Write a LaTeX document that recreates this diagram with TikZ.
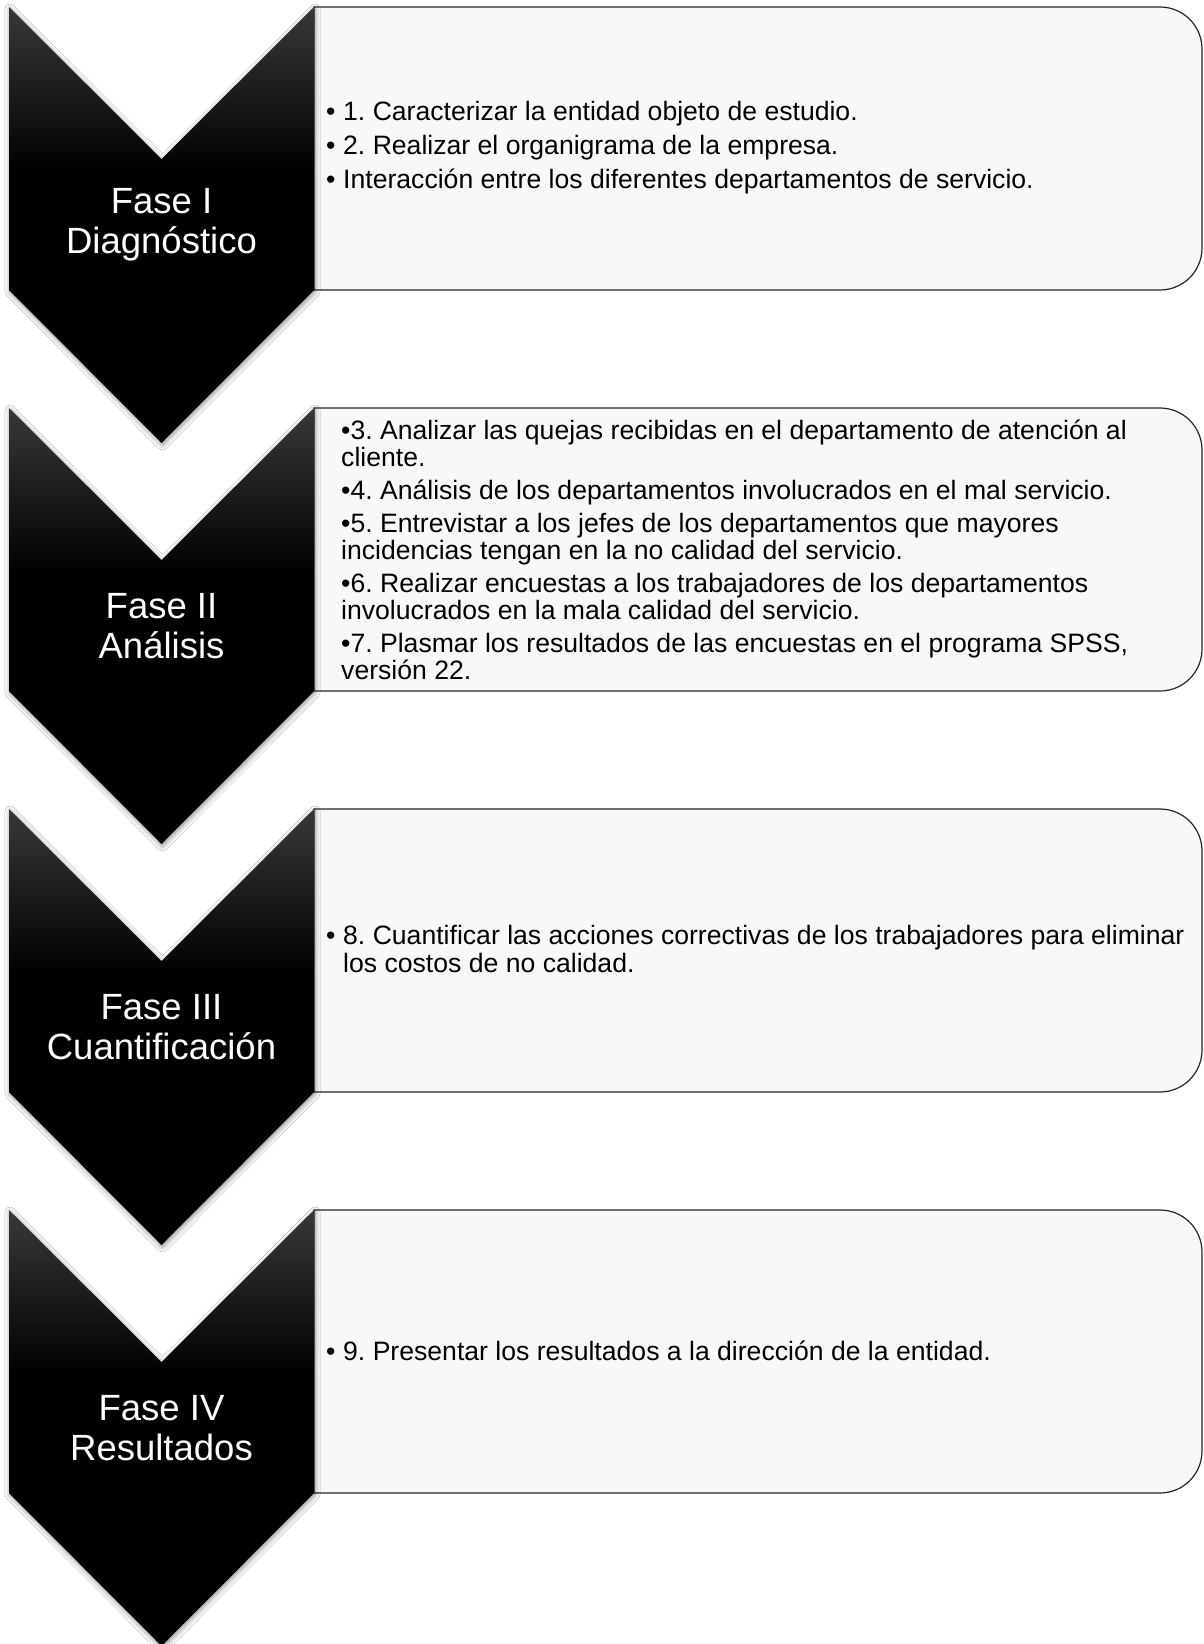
\documentclass[tikz,border=0pt]{standalone}
\usepackage{fontspec}
\setmainfont{Liberation Sans}
\usetikzlibrary{shadows.blur}
\definecolor{boxgray}{HTML}{F8F8F8}
\frenchspacing
\newcommand{\bul}{\makebox[17pt][l]{•}}
\pgfdeclareverticalshading{chevshade}{100bp}{color(0bp)=(black); color(25bp)=(black); color(56bp)=(black); color(75bp)=(black!78); color(100bp)=(black!78)}
\tikzset{
  chev/.style={shading=chevshade, draw=none,
    blur shadow={shadow xshift=1pt, shadow yshift=-2pt, shadow blur radius=5pt, shadow opacity=45}},
  stepbox/.style={fill=boxgray, draw=black!85, line width=1.2pt, rounded corners=42pt},
  phase/.style={text=white, font=\fontsize{36.5}{40}\selectfont, align=center, inner sep=0pt},
  items/.style={font=\fontsize{26.6}{28}\selectfont, align=left, anchor=west, inner sep=0pt, text=black},
}
\begin{document}
\begin{tikzpicture}[x=1pt,y=-1pt]
\useasboundingbox (0,0) rectangle (1204,1644);
\fill[white] (0,0) rectangle (1204,1644);
\foreach \k in {0,1,2,3}{
  \pgfmathsetmacro{\T}{7+401*\k}
  \path[stepbox] (700,\T) -- (1202,\T) -- (1202,\T+283) -- (700,\T+283) [sharp corners] -- (314,\T+283) -- (314,\T) -- cycle;
  \path[chev] (9,\T) -- (161.5,\T+152) -- (314,\T) -- (314,\T+283) -- (161.5,\T+436) -- (9,\T+283) -- cycle;
}
\node[phase] (p1) at (161.5,225) {Fase I\\Diagnóstico};
\node[phase] (p2) at (161.5,626) {Fase II\\Análisis};
\node[phase] (p3) at (161.5,1027) {Fase III\\Cuantificación};
\node[phase] (p4) at (161.5,1428) {Fase IV\\Resultados};

\node[items] (t1) at (326,148) {\bul 1. Caracterizar la entidad objeto de estudio.\\[6pt]
\bul 2. Realizar el organigrama de la empresa.\\[6pt]
\bul Interacción entre los diferentes departamentos de servicio.};

\node[items, font=\fontsize{26.6}{27}\selectfont] (t2) at (341,550) {•3. Analizar las quejas recibidas en el departamento de atención al\\
cliente.\\[6pt]
•4. Análisis de los departamentos involucrados en el mal servicio.\\[6pt]
•5. Entrevistar a los jefes de los departamentos que mayores\\
incidencias tengan en la no calidad del servicio.\\[6pt]
•6. Realizar encuestas a los trabajadores de los departamentos\\
involucrados en la mala calidad del servicio.\\[6pt]
•7. Plasmar los resultados de las encuestas en el programa SPSS,\\
versión 22.};

\node[items] (t3) at (326,949) {\bul 8. Cuantificar las acciones correctivas de los trabajadores para eliminar\\
\hspace*{17pt}los costos de no calidad.};

\node[items] (t4) at (326,1351) {\bul 9. Presentar los resultados a la dirección de la entidad.};
\end{tikzpicture}
\end{document}
